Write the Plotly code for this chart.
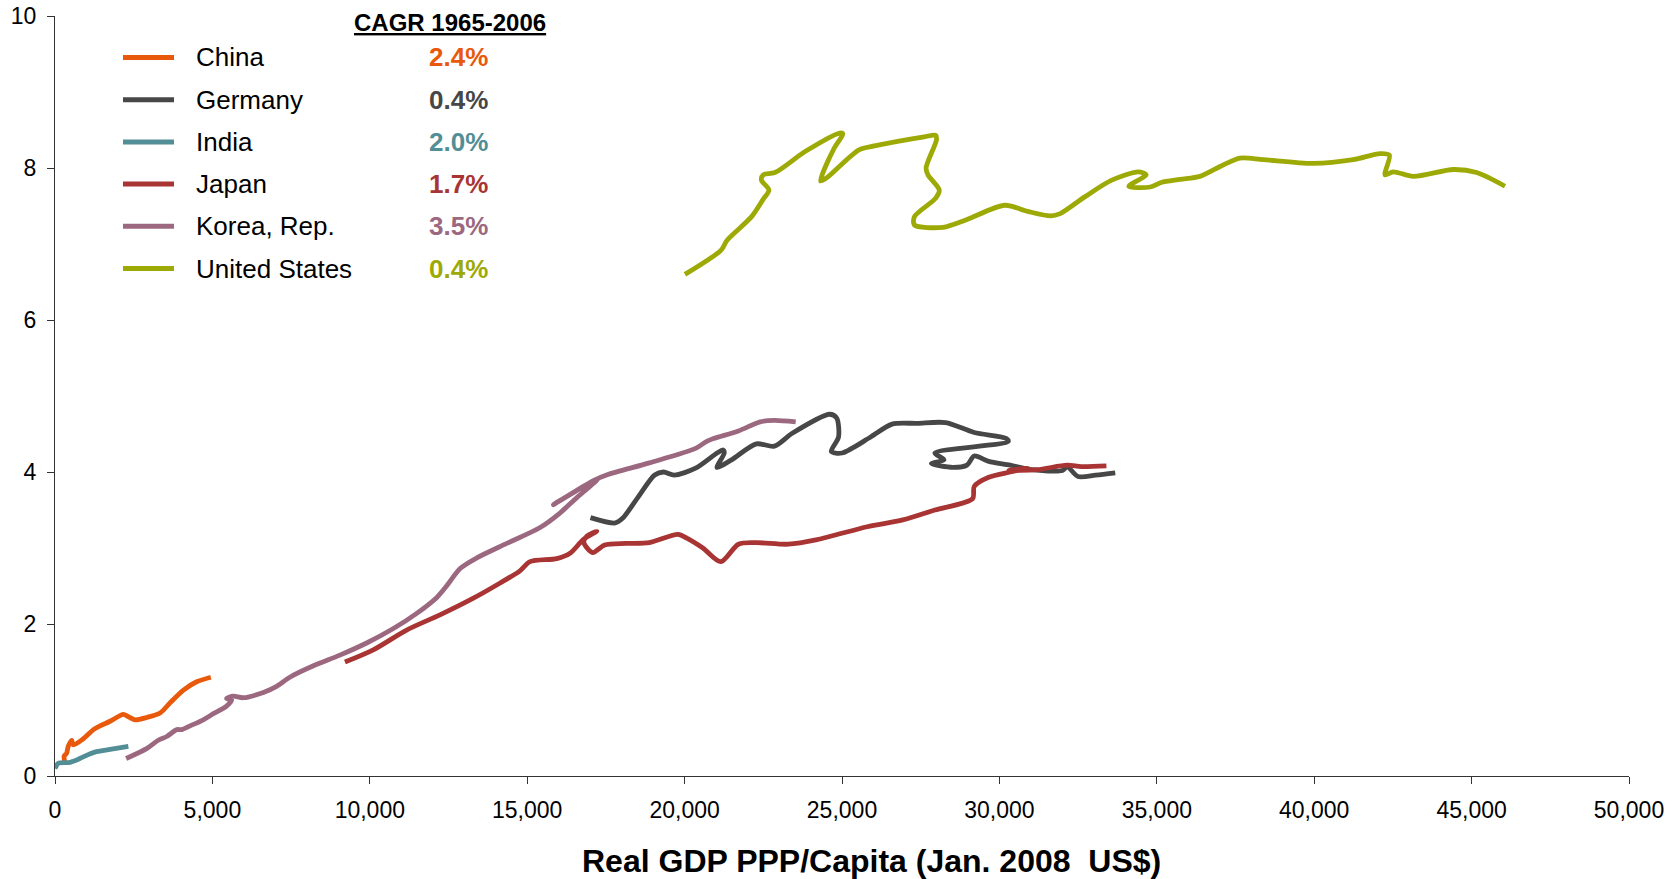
import plotly.graph_objects as go

# ---------------- data (x: real GDP PPP per capita, US$; y: value) ----------------
china_x = [320, 290, 370, 420, 530, 580, 900, 1220, 1430, 1750, 2170, 2330, 2540, 2910, 3340, 3650, 4080, 4500, 4950]
china_y = [0.17, 0.26, 0.30, 0.39, 0.47, 0.41, 0.49, 0.61, 0.66, 0.72, 0.81, 0.78, 0.74, 0.77, 0.83, 0.96, 1.13, 1.24, 1.30]

india_x = [0, 50, 110, 480, 790, 1100, 1320, 1750, 2330]
india_y = [0.10, 0.14, 0.17, 0.18, 0.23, 0.29, 0.32, 0.35, 0.39]

korea_x = [2260, 2910, 3280, 3550, 3870, 4020, 4290, 4710, 5030, 5450, 5610, 5450, 5660, 5980, 6620, 7040, 7460,
           8210, 9050, 9900, 10750, 11490, 12130, 12440, 12870, 13400, 14350, 15410, 16040, 16570, 16990, 17250,
           15830, 17120, 17520, 18880, 20350, 20690, 20920, 21710, 22400, 22850, 23530]
korea_y = [0.23, 0.36, 0.47, 0.52, 0.61, 0.61, 0.66, 0.74, 0.82, 0.92, 1.00, 1.02, 1.05, 1.03, 1.10, 1.18, 1.30,
           1.45, 1.59, 1.75, 1.94, 2.14, 2.35, 2.50, 2.73, 2.87, 3.06, 3.27, 3.46, 3.66, 3.81, 3.91,
           3.57, 3.89, 3.96, 4.12, 4.31, 4.40, 4.44, 4.54, 4.66, 4.68, 4.66]

japan_x = [9210, 10110, 11170, 12230, 13290, 14140, 14770, 15090, 15940, 16360, 16780, 17210, 16900, 16800, 17080,
           17460, 18140, 18880, 19790, 20070, 20580, 21150, 21710, 22280, 23300, 24210, 25800, 26930, 27950,
           29150, 29200, 29660, 30340, 30910, 30300, 31200, 32150, 32600, 33400]
japan_y = [1.50, 1.66, 1.92, 2.12, 2.34, 2.54, 2.70, 2.82, 2.86, 2.93, 3.11, 3.22, 3.16, 3.07, 2.94,
           3.04, 3.06, 3.07, 3.18, 3.13, 3.00, 2.82, 3.05, 3.07, 3.05, 3.11, 3.28, 3.37, 3.50,
           3.65, 3.81, 3.93, 4.00, 4.05, 4.02, 4.03, 4.09, 4.07, 4.08]

germany_x = [17010, 17800, 18030, 18540, 19050, 19330, 19670, 20350, 21030, 21220, 21260, 21030, 21490, 22280,
             22850, 23420, 24610, 24830, 24890, 24660, 25000, 25910, 26590, 27390, 28290, 29200, 30220, 30280,
             27950, 28240, 27840, 28520, 28970, 29200, 29660, 30340, 31020, 32000, 32150, 32500, 33060, 33680]
germany_y = [3.40, 3.33, 3.39, 3.68, 3.96, 4.00, 3.96, 4.05, 4.25, 4.29, 4.25, 4.06, 4.16, 4.37,
             4.34, 4.51, 4.76, 4.71, 4.46, 4.27, 4.25, 4.46, 4.63, 4.64, 4.65, 4.52, 4.44, 4.40,
             4.25, 4.16, 4.11, 4.06, 4.09, 4.21, 4.14, 4.09, 4.03, 4.02, 4.07, 3.94, 3.96, 3.99]

us_x = [20010, 21160, 21350, 22130, 22500, 22680, 22440, 22500, 22870, 23840, 24930, 25030, 24750, 24320, 24510,
        25540, 26030, 27610, 27980, 28000, 27670, 27730, 28090, 27970, 27300, 27300, 28210, 28950, 30170, 30890,
        31630, 31930, 32710, 33570, 34420, 34660, 34110, 34790, 35140, 35740, 36370, 37110, 37640, 38380, 39970,
        41240, 42090, 42390, 42250, 42510, 43150, 44420, 45160, 46060]
us_y = [6.60, 6.92, 7.05, 7.36, 7.59, 7.71, 7.84, 7.91, 7.94, 8.22, 8.46, 8.45, 8.26, 7.83, 7.87,
        8.24, 8.29, 8.41, 8.43, 8.37, 8.00, 7.91, 7.71, 7.60, 7.36, 7.25, 7.22, 7.32, 7.51, 7.43,
        7.37, 7.40, 7.62, 7.84, 7.95, 7.91, 7.76, 7.75, 7.81, 7.85, 7.89, 8.04, 8.13, 8.11, 8.06,
        8.11, 8.19, 8.17, 7.91, 7.95, 7.89, 7.98, 7.94, 7.76]

countries = ["China", "Germany", "India", "Japan", "Korea, Rep.", "United States"]
cagr = ["2.4%", "0.4%", "2.0%", "1.7%", "3.5%", "0.4%"]
colors = ["#E8590C", "#474747", "#528E95", "#A93434", "#9C6880", "#9DAA06"]
series = {
    "China": (china_x, china_y),
    "Germany": (germany_x, germany_y),
    "India": (india_x, india_y),
    "Japan": (japan_x, japan_y),
    "Korea, Rep.": (korea_x, korea_y),
    "United States": (us_x, us_y),
}

x_ticks = list(range(0, 50001, 5000))
y_ticks = [0, 2, 4, 6, 8, 10]

FONT = "Liberation Sans, Arial, sans-serif"

# ---------------- layout geometry (pixels) ----------------
W, H = 1680, 879
PL, PR, PT, PB = 55, 1629, 16, 776


def pxx(x):
    return (x - PL) / (PR - PL)


def pxy(y):
    return (PB - y) / (PB - PT)


fig = go.Figure()
for name, col in zip(countries, colors):
    xs, ys = series[name]
    fig.add_trace(go.Scatter(
        x=xs, y=ys, mode="lines", name=name,
        line=dict(color=col, width=4.8, shape="spline", smoothing=0.8),
        showlegend=False, hoverinfo="x+y+name",
    ))

shapes = []
annotations = []
row_y = [57.5 + 42.2 * i for i in range(len(countries))]
for name, val, col, ry in zip(countries, cagr, colors, row_y):
    shapes.append(dict(type="line", xref="paper", yref="paper",
                       x0=pxx(123), x1=pxx(174), y0=pxy(ry), y1=pxy(ry),
                       line=dict(color=col, width=5)))
    annotations.append(dict(xref="paper", yref="paper", x=pxx(194), y=pxy(ry),
                            xanchor="left", yanchor="middle", showarrow=False,
                            text=name, font=dict(family=FONT, size=26, color="#000000")))
    annotations.append(dict(xref="paper", yref="paper", x=pxx(490), y=pxy(ry),
                            xanchor="right", yanchor="middle", showarrow=False,
                            text="<b>" + val + "</b>", font=dict(family=FONT, size=26, color=col)))

annotations.append(dict(xref="paper", yref="paper", x=pxx(450), y=pxy(22),
                        xanchor="center", yanchor="middle", showarrow=False,
                        text="<b>CAGR 1965-2006</b>",
                        font=dict(family=FONT, size=24, color="#000000", lineposition="under")))

annotations.append(dict(xref="paper", yref="paper", x=pxx(871), y=pxy(861),
                        xanchor="center", yanchor="middle", showarrow=False,
                        text="<b>Real GDP PPP/Capita (Jan. 2008\u00a0 US$)</b>",
                        font=dict(family=FONT, size=32, color="#000000")))

fig.update_layout(
    width=W, height=H,
    margin=dict(l=PL, r=W - PR, t=PT, b=H - PB, pad=0),
    paper_bgcolor="white", plot_bgcolor="white",
    font=dict(family=FONT, size=23, color="#000000"),
    shapes=shapes, annotations=annotations,
    xaxis=dict(range=[0, 50000], tickvals=x_ticks, tickformat=",", showgrid=False, zeroline=False,
               automargin=False,
               showline=True, linecolor="#333333", linewidth=1, ticks="outside", ticklen=7,
               tickcolor="#333333", tickwidth=1, ticklabelstandoff=6,
               tickfont=dict(family=FONT, size=23, color="#000000")),
    yaxis=dict(range=[0, 10], tickvals=y_ticks, showgrid=False, zeroline=False,
               automargin=False,
               showline=True, linecolor="#333333", linewidth=1, ticks="outside", ticklen=7,
               tickcolor="#333333", tickwidth=1, ticklabelstandoff=6,
               tickfont=dict(family=FONT, size=23, color="#000000")),
)

fig.write_html("out.html")
